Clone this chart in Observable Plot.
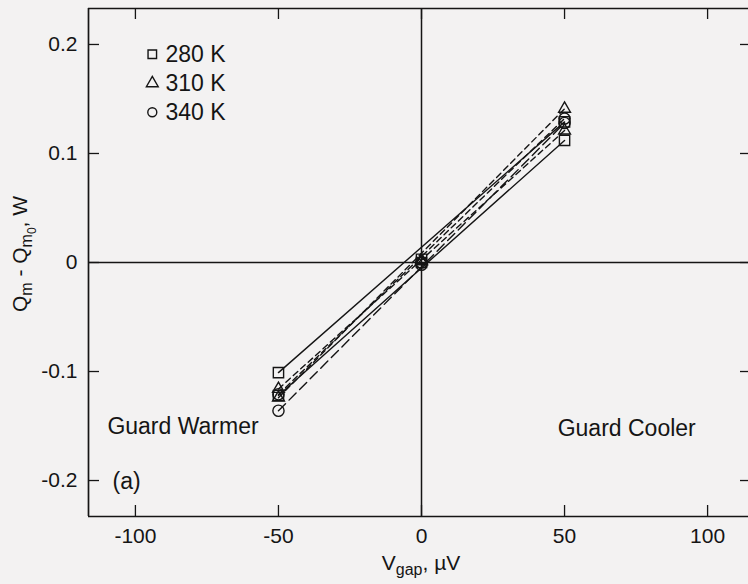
<!DOCTYPE html>
<html><head><meta charset="utf-8">
<script src="https://cdn.jsdelivr.net/npm/d3@7"></script>
<script src="https://cdn.jsdelivr.net/npm/@observablehq/plot@0.6"></script>
<style>
html,body{margin:0;padding:0;background:#f3f2f2;}
#chart svg{display:block;}
</style></head><body><div id="chart"></div>
<script>
// ---- data ----
const vgap = [-50, 0, 50];
const q280a = [-0.101, 0.003, 0.129];
const q280b = [-0.122, 0.000, 0.112];
const q310a = [-0.116, 0.002, 0.121];
const q310b = [-0.124, 0.001, 0.141];
const q340a = [-0.121, 0.000, 0.132];
const q340b = [-0.136, -0.002, 0.128];
const temps = ["280 K", "310 K", "340 K"];
const xTicks = [-100, -50, 0, 50, 100];
const xTickLabels = ["-100", "-50", "0", "50", "100"];
const yTicks = [-0.2, -0.1, 0, 0.1, 0.2];
const yTickLabels = ["-0.2", "-0.1", "0", "0.1", "0.2"];

const series = [
  {temp: "280 K", run: "a", values: q280a},
  {temp: "280 K", run: "a", values: q280b},
  {temp: "310 K", run: "b", values: q310a},
  {temp: "310 K", run: "b", values: q310b},
  {temp: "340 K", run: "b", values: q340a},
  {temp: "340 K", run: "c", values: q340b}
];
const rows = series.flatMap((s, k) => s.values.map((v, i) => ({key: k, temp: s.temp, run: s.run, x: vgap[i], y: v})));

// ---- layout ----
const W = 748, H = 584, mL = 88, mR = 0, mT = 8, mB = 68;
const xDom = [-116.4, 114.3], yDom = [-0.233, 0.233];
const pxX = (W - mL - mR) / (xDom[1] - xDom[0]);
const pxY = (H - mT - mB) / (yDom[1] - yDom[0]);
const tl = 11;
const font = "'Liberation Sans', Arial, Helvetica, sans-serif";
const ink = "#151515";

const dashes = {a: null, b: "6,4", c: "10,5"};
const symR = {"280 K": 5.8, "310 K": 4.4, "340 K": 5.6};
const legR = {"280 K": 4.8, "310 K": 4.4, "340 K": 4.5};

const marks = [
  Plot.ruleY([0], {stroke: ink, strokeWidth: 1.5}),
  Plot.ruleX([0], {stroke: ink, strokeWidth: 1.5}),
  Plot.ruleX([xDom[0]], {stroke: ink, strokeWidth: 1.7}),
  Plot.ruleY([yDom[0]], {stroke: ink, strokeWidth: 1.7}),
  Plot.ruleY([yDom[1]], {stroke: ink, strokeWidth: 1.7}),
  Plot.ruleX(xTicks, {x: d => d, y1: yDom[0], y2: yDom[0] + tl / pxY, stroke: ink, strokeWidth: 1.3}),
  Plot.ruleX(xTicks, {x: d => d, y1: yDom[1], y2: yDom[1] - tl / pxY, stroke: ink, strokeWidth: 1.3}),
  Plot.ruleY(yTicks, {y: d => d, x1: xDom[0], x2: xDom[0] + tl / pxX, stroke: ink, strokeWidth: 1.3}),
  Plot.ruleY(yTicks, {y: d => d, x1: xDom[1], x2: xDom[1] - 8 / pxX, stroke: ink, strokeWidth: 1.3}),
  Plot.axisX(xTicks, {anchor: "bottom", label: null, tickSize: 0, tickPadding: 12, fontSize: 21, tickFormat: (d, i) => xTickLabels[i], fill: ink}),
  Plot.axisY(yTicks, {anchor: "left", label: null, tickSize: 0, tickPadding: 11, fontSize: 21, tickFormat: (d, i) => yTickLabels[i], fill: ink}),
];
// lines joining the end points of each run
for (const run of ["a", "b", "c"]) {
  marks.push(Plot.line(rows.filter(d => d.run === run && d.x !== 0), {x: "x", y: "y", z: "key", stroke: ink, strokeWidth: 1.4, strokeDasharray: dashes[run]}));
}
// markers
for (const t of temps) {
  marks.push(Plot.dot(rows.filter(d => d.temp === t), {x: "x", y: "y", symbol: "temp", r: symR[t], stroke: ink, strokeWidth: 1.4, fill: "none"}));
}
// legend
for (const [i, t] of temps.entries()) {
  marks.push(Plot.dot([t], {x: -94.1, y: 0.191 - i * 0.0266, symbol: d => d, r: legR[t], stroke: ink, strokeWidth: 1.4, fill: "none"}));
}
marks.push(Plot.text(temps, {x: -89.5, y: (d, i) => 0.191 - i * 0.0266, text: d => d, textAnchor: "start", fontSize: 23, fill: ink}));
// annotations
marks.push(Plot.text(["Guard Warmer"], {x: -109.8, y: -0.151, text: d => d, textAnchor: "start", fontSize: 23, fill: ink}));
marks.push(Plot.text(["Guard Cooler"], {x: 47.6, y: -0.152, text: d => d, textAnchor: "start", fontSize: 23, fill: ink}));
marks.push(Plot.text(["(a)"], {x: -108, y: -0.201, text: d => d, textAnchor: "start", fontSize: 23, fill: ink}));

const chart = Plot.plot({
  width: W, height: H,
  marginLeft: mL, marginRight: mR, marginTop: mT, marginBottom: mB,
  x: {domain: xDom},
  y: {domain: yDom},
  symbol: {domain: temps, range: ["square", "triangle", "circle"]},
  style: {fontFamily: font, background: "#f3f2f2", color: ink},
  marks
});
document.getElementById("chart").appendChild(chart);

const svg = d3.select(chart);
const xl = svg.append("text").attr("x", 421).attr("y", 570).attr("text-anchor", "middle")
  .attr("font-size", 21).attr("font-family", font).attr("fill", ink);
xl.append("tspan").text("V");
xl.append("tspan").attr("font-size", 16).attr("dy", 5).text("gap");
xl.append("tspan").attr("dy", -5).text(", \u00b5V");

const yl = svg.append("text").attr("transform", "translate(27,254) rotate(-90)").attr("text-anchor", "middle")
  .attr("font-size", 21).attr("font-family", font).attr("fill", ink);
yl.append("tspan").text("Q");
yl.append("tspan").attr("font-size", 16).attr("dy", 5).text("m");
yl.append("tspan").attr("dy", -5).text(" - Q");
yl.append("tspan").attr("font-size", 16).attr("dy", 5).text("m");
yl.append("tspan").attr("font-size", 12).attr("dy", 4).text("0");
yl.append("tspan").attr("dy", -9).text(", W");
</script></body></html>
